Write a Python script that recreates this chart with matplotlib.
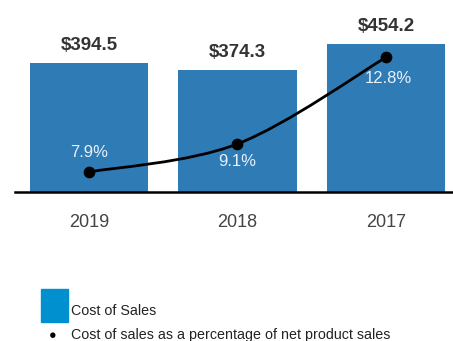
import matplotlib.pyplot as plt
import numpy as np
from matplotlib.path import Path
from matplotlib.patches import PathPatch, Rectangle

years = ["2019", "2018", "2017"]
cost_of_sales = [394.5, 374.3, 454.2]
pct_of_sales = [7.9, 9.1, 12.8]
value_labels = ["$394.5", "$374.3", "$454.2"]
pct_labels = ["7.9%", "9.1%", "12.8%"]

plt.rcParams["font.family"] = ["Liberation Sans", "DejaVu Sans"]

fig = plt.figure(figsize=(4.53, 3.41), dpi=100)
ax = fig.add_axes([15 / 453, 1 - 192 / 341, 438 / 453, 192 / 341])

x = np.arange(len(years))
ax.bar(x, cost_of_sales, width=0.795, color="#2e7bb6", zorder=2)
ax.set_xlim(-0.498, 2.451)
ax.set_ylim(0, 588)

for xi, v, lab in zip(x, cost_of_sales, value_labels):
    ax.text(xi, v + 27, lab, ha="center", va="bottom", fontsize=13.5,
            fontweight="bold", color="#333333")

ax.set_xticks(x)
ax.set_xticklabels(years, fontsize=13, color="#444444")
ax.tick_params(axis="x", length=0, pad=16)
ax.set_yticks([])
for side in ["top", "right", "left"]:
    ax.spines[side].set_visible(False)
ax.spines["bottom"].set_linewidth(1.8)
ax.spines["bottom"].set_zorder(3)

# percentage line on its own scale, smoothed with a Catmull-Rom curve
ax2 = ax.twinx()
ax2.set_ylim(7.045, 15.25)
ax2.axis("off")

px = x.astype(float)
py = np.array(pct_of_sales, dtype=float)
verts = [(px[0], py[0])]
codes = [Path.MOVETO]
for i in range(len(px) - 1):
    x0, y0 = (px[i - 1], py[i - 1]) if i > 0 else (px[i], py[i])
    x3, y3 = (px[i + 2], py[i + 2]) if i + 2 < len(px) else (px[i + 1], py[i + 1])
    c1 = (px[i] + (px[i + 1] - x0) / 6, py[i] + (py[i + 1] - y0) / 6)
    c2 = (px[i + 1] - (x3 - px[i]) / 6, py[i + 1] - (y3 - py[i]) / 6)
    verts += [c1, c2, (px[i + 1], py[i + 1])]
    codes += [Path.CURVE4] * 3
ax2.add_patch(PathPatch(Path(verts, codes), facecolor="none",
                        edgecolor="black", lw=2, zorder=4))
ax2.scatter(px, py, s=55, color="black", zorder=5)

offsets = [(0, 14), (0, -13), (2, -15)]
for xi, p, lab, (dx, dy) in zip(px, py, pct_labels, offsets):
    ax2.annotate(lab, (xi, p), xytext=(dx, dy), textcoords="offset points",
                 ha="center", va="center", fontsize=12, color="#e8f0f8")

# legend drawn underneath the chart
fig.patches.append(Rectangle((41 / 453, 1 - 322 / 341), 27 / 453, 33 / 341,
                             transform=fig.transFigure, color="#0090d0"))
fig.text(71 / 453, 1 - 311 / 341, "Cost of Sales", fontsize=10.3,
         color="#222222", va="center")
fig.text(53 / 453, 1 - 336 / 341, "\u25cf", fontsize=9, color="black",
         ha="center", va="center")
fig.text(71 / 453, 1 - 335 / 341,
         "Cost of sales as a percentage of net product sales", fontsize=10.3,
         color="#222222", va="center")

fig.savefig("out.png", dpi=100)
